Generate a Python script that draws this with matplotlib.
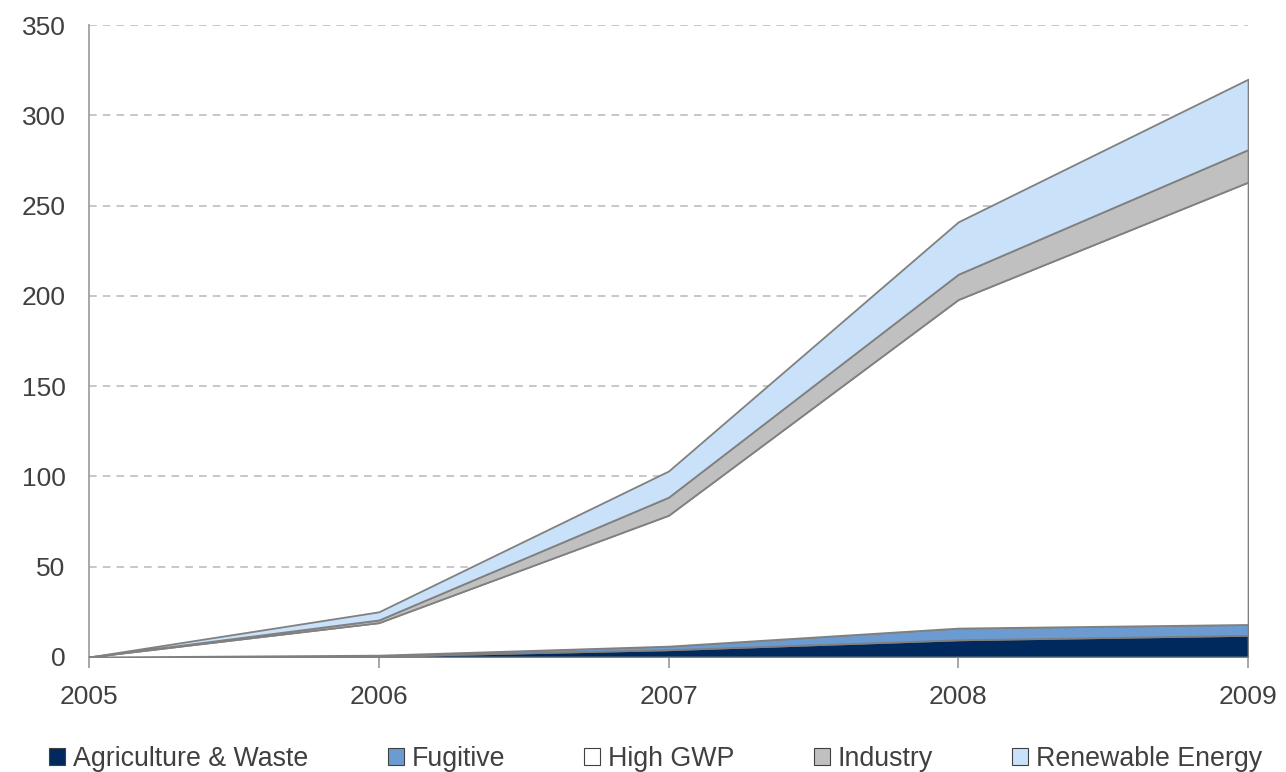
import numpy as np
import matplotlib.pyplot as plt
from matplotlib.patches import Patch

plt.rcParams['font.family'] = ['Liberation Sans', 'DejaVu Sans']

years = [2005, 2006, 2007, 2008, 2009]
series = ['Agriculture & Waste', 'Fugitive', 'High GWP', 'Industry', 'Renewable Energy']
agriculture = [0, 0.5, 4, 9.5, 12]
fugitive = [0, 0.5, 2, 6.5, 6]
high_gwp = [0, 18, 72.5, 182, 245]
industry = [0, 1.5, 10, 14, 18]
renewable = [0, 4.5, 14.5, 29, 39]
colors = ['#002a5e', '#6b9bd1', '#ffffff', '#c0c0c0', '#c9e2fa']

fig = plt.figure(figsize=(12.86, 7.72), dpi=100)
ax = fig.add_axes([0.0692, 0.149, 0.9013, 0.8186])

data = np.vstack([agriculture, fugitive, high_gwp, industry, renewable])
ax.stackplot(years, data, colors=colors, edgecolor='#808080', linewidth=1.3, zorder=3)

ax.set_xlim(2005, 2009)
ax.set_ylim(0, 350)
ax.set_xticks(years)
ax.set_yticks(range(0, 351, 50))
for y in range(50, 351, 50):
    ax.axhline(y, color='#b8b8b8', linestyle=(0, (5, 4)), linewidth=1.1, zorder=1)

for s in ['top', 'right']:
    ax.spines[s].set_visible(False)
for s in ['left', 'bottom']:
    ax.spines[s].set_color('#a0a0a0')
    ax.spines[s].set_linewidth(1.3)
ax.tick_params(axis='x', colors='#a0a0a0', length=8, width=1.3, labelcolor='#404040',
               labelsize=19, pad=12)
ax.tick_params(axis='y', length=0, labelcolor='#404040', labelsize=19, pad=17)

handles = [Patch(facecolor=c, edgecolor='#404040', linewidth=0.8) for c in colors]
fig.legend(handles, series, loc='lower center', bbox_to_anchor=(0.51, -0.031), ncol=5,
           frameon=False, fontsize=19.3, handlelength=0.6, handleheight=0.6,
           handletextpad=0.3, columnspacing=2.95, labelcolor='#404040')

fig.savefig('out.png', dpi=100)
